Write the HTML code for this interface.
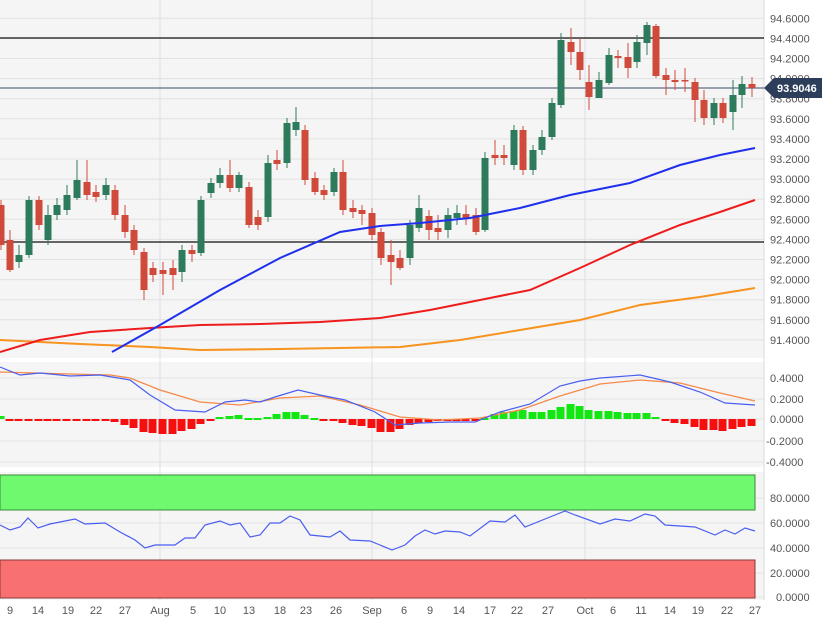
<!DOCTYPE html>
<html><head><meta charset="utf-8"><style>
html,body{margin:0;padding:0;background:#fff;width:822px;height:629px;overflow:hidden}
svg{display:block;font-family:"Liberation Sans",sans-serif}
</style></head><body>
<svg id="s" width="822" height="629" xmlns="http://www.w3.org/2000/svg">
<rect x="0" y="0" width="764" height="358" fill="#f5f5f5"/>
<rect x="0" y="362" width="764" height="105" fill="#f5f5f5"/>
<rect x="0" y="472" width="764" height="128" fill="#f5f5f5"/>
<g id="grid" stroke="#e2e2e2" stroke-width="1"></g>
<g stroke="#e0e0e6"><line x1="160" y1="0" x2="160" y2="600"/><line x1="372" y1="0" x2="372" y2="600"/><line x1="585" y1="0" x2="585" y2="600"/></g>
<line x1="764" y1="0" x2="764" y2="600" stroke="#d8dbe3"/>
<line x1="0" y1="38" x2="764" y2="38" stroke="#111" stroke-width="1.2"/>
<line x1="0" y1="242" x2="764" y2="242" stroke="#111" stroke-width="1.2"/>
<line x1="0" y1="88" x2="764" y2="88" stroke="#7a8499" stroke-width="1.5"/>
<g id="c"></g>
<polyline fill="none" stroke="#f7931e" stroke-width="2" points="0,340 80,344 150,347 200,350 280,349 400,347 460,340 520,330 580,320 640,305 700,297 755,288"/>
<polyline fill="none" stroke="#ee1c1c" stroke-width="2" points="0,352 40,340 90,332 150,328 200,325 260,324 320,322 380,318 430,310 480,300 530,290 580,268 630,245 680,225 720,212 755,200"/>
<polyline fill="none" stroke="#1f2fee" stroke-width="2" points="112,352 160,325 220,290 280,258 340,232 380,226 420,223 470,218 520,208 570,195 630,183 680,165 720,155 755,148"/>
<g id="h"></g>
<polyline fill="none" stroke="#f58a4a" stroke-width="1.3" points="0,372 70,374 110,375 130,378 160,390 200,402 240,405 280,398 320,396 360,405 400,417 440,420 480,418 520,410 560,396 600,384 640,380 680,383 720,393 755,401"/>
<polyline fill="none" stroke="#4a5ef0" stroke-width="1.2" points="0,367 20,375 40,373 70,376 100,375 130,380 150,395 175,410 205,412 225,402 245,400 260,402 275,397 298,390 320,395 345,400 375,412 395,425 420,423 450,422 475,422 500,412 530,404 560,386 580,381 600,378 640,375 670,382 700,392 725,403 755,405"/>
<rect x="0" y="475" width="755" height="35" fill="#6ef96e" stroke="#3a8a3a"/>
<rect x="0" y="560" width="755" height="38" fill="#f87070" stroke="#8a3a3a"/>
<polyline fill="none" stroke="#4a5ef0" stroke-width="1.2" points="0,525 10,530 20,527 28,518 38,528 50,524 75,519 85,524 105,523 120,532 135,540 145,548 155,545 175,545 185,538 195,538 205,525 220,521 230,525 240,523 250,537 260,535 270,523 280,523 290,516 300,520 310,535 330,537 340,531 350,540 370,541 380,545 392,550 405,545 415,536 425,530 435,534 445,531 460,532 470,536 490,521 505,522 515,515 525,527 550,517 565,511 575,515 600,524 615,519 630,521 645,514 655,516 665,525 695,527 715,535 725,530 735,534 745,528 755,531"/>
<g id="t" font-size="11" fill="#555"></g>
<path d="M764,88 L774,78 L822,78 L822,98 L774,98 Z" fill="#2c3e5a"/>
<text x="777" y="92" font-size="11" font-weight="bold" fill="#fff">93.9046</text>
</svg>
<script>
var NS="http://www.w3.org/2000/svg";
function el(p,t,a,txt){var e=document.createElementNS(NS,t);for(var k in a)e.setAttribute(k,a[k]);if(txt!=null)e.textContent=txt;document.getElementById(p).appendChild(e);}
// grid & labels
var pl=["94.8000","94.6000","94.4000","94.2000","94.0000","93.8000","93.6000","93.4000","93.2000","93.0000","92.8000","92.6000","92.4000","92.2000","92.0000","91.8000","91.6000","91.4000"];
for(var i=0;i<pl.length;i++){var y=-1.8+i*20.1;if(y>2&&y<356)el("grid","line",{x1:0,x2:764,y1:y,y2:y});if(y>2)el("t","text",{x:770,y:y+4},pl[i]);}
var m=[["0.4000",378],["0.2000",399],["0.0000",419],["-0.2000",441],["-0.4000",462]];
m.forEach(function(a){el("grid","line",{x1:0,x2:764,y1:a[1],y2:a[1]});el("t","text",{x:a[0][0]=="-"?766:770,y:a[1]+4},a[0]);});
var r=[["80.0000",498],["60.0000",523],["40.0000",548],["20.0000",573],["0.0000",597]];
r.forEach(function(a){el("grid","line",{x1:0,x2:764,y1:a[1],y2:a[1]});el("t","text",{x:a[0].length>6?770:776,y:a[1]+4},a[0]);});
var xl=[["9",10],["14",38],["19",68],["22",96],["27",125],["Aug",160],["5",193],["10",220],["13",249],["18",280],["23",306],["26",336],["Sep",372],["6",404],["9",430],["14",459],["17",490],["22",517],["27",548],["Oct",585],["6",613],["11",641],["14",670],["19",698],["22",727],["27",755]];
xl.forEach(function(a){el("t","text",{x:a[1],y:614,"text-anchor":"middle"},a[0]);});
// candles: x, top, bottom, green?, hi, lo
var C=[[0,205,245,0,200,250],[9,240,270,0,230,272],[18,255,262,1,245,268],[28,200,255,1,196,258],[38,200,225,0,196,230],[47,215,240,1,205,245],[56,205,215,1,198,220],[66,195,210,1,185,215],[76,180,198,1,160,200],[86,182,195,0,160,200],[95,192,197,0,185,202],[105,185,195,1,178,200],[114,190,215,0,185,220],[124,215,232,0,205,238],[133,230,250,0,225,255],[143,252,290,0,248,300],[152,268,275,0,262,282],[162,270,274,0,262,295],[172,268,275,0,260,290],[181,250,272,1,245,282],[191,250,254,0,245,262],[200,200,253,1,196,256],[210,183,193,1,178,198],[219,175,183,1,168,188],[229,175,188,0,160,192],[238,175,188,1,172,192],[248,187,225,0,182,228],[257,217,225,0,210,230],[267,163,217,1,155,222],[276,160,164,0,150,170],[286,123,163,1,118,168],[295,122,130,1,107,136],[304,130,180,0,125,185],[314,178,192,0,172,195],[323,190,195,0,185,200],[333,172,192,1,168,196],[342,172,210,0,160,215],[352,208,212,0,200,218],[361,210,214,0,205,225],[371,213,235,0,208,240],[380,232,258,0,228,265],[390,255,262,0,240,285],[399,258,268,0,250,270],[409,225,258,1,220,265],[418,208,228,1,195,232],[428,216,230,0,210,240],[437,228,232,0,215,240],[447,215,230,1,208,238],[456,213,218,1,205,225],[465,214,218,0,205,225],[475,215,232,0,208,235],[484,158,230,1,152,232],[494,155,158,0,140,165],[503,155,158,0,145,165],[513,130,165,1,125,170],[522,130,170,0,126,175],[532,150,170,1,145,175],[541,137,150,1,130,155],[551,103,137,1,98,140],[560,40,105,1,33,108],[570,42,52,0,28,65],[579,52,70,0,38,80],[588,82,97,0,65,110],[598,80,98,1,72,98],[608,55,83,1,48,85],[617,56,58,0,50,68],[627,57,68,0,43,78],[636,42,62,1,35,68],[646,25,43,1,22,55],[655,26,76,0,24,78],[665,75,80,0,68,95],[674,80,82,0,70,90],[684,80,81,0,68,92],[694,82,100,0,78,122],[703,100,118,0,90,125],[713,103,118,1,98,125],[722,103,118,0,98,123],[732,95,112,1,80,130],[741,84,95,1,76,108],[751,84,88,0,77,97]];
C.forEach(function(c){var col=c[3]?"#2e7a5c":"#cf4a3a";var x=c[0]+1;
el("c","line",{x1:x,x2:x,y1:c[4],y2:c[5],stroke:col,"stroke-width":1});
el("c","rect",{x:x-3.5,y:c[1],width:7,height:Math.max(1.5,c[2]-c[1]),fill:col});});
// histogram: value in px (negative = below zero)
var H=[[0,3],[9,-1],[18,-1],[28,-2],[38,-2],[47,-2],[56,-2],[66,-1],[76,-1],[86,-1],[95,-1],[105,-1],[114,-3],[124,-6],[133,-9],[143,-13],[152,-14],[162,-15],[172,-15],[181,-12],[191,-10],[200,-5],[210,-1],[219,2],[229,3],[238,4],[248,1],[257,1],[267,2],[276,5],[286,7],[295,7],[304,4],[314,1],[323,-2],[333,-2],[342,-4],[352,-6],[361,-7],[371,-9],[380,-13],[390,-13],[399,-10],[409,-6],[418,-4],[428,-3],[437,-2],[447,-2],[456,-2],[465,-1],[475,-1],[484,1],[494,5],[503,7],[513,8],[522,9],[532,7],[541,7],[551,9],[560,12],[570,15],[579,13],[588,9],[598,8],[608,8],[617,7],[627,6],[636,6],[646,6],[655,2],[665,-1],[674,-4],[684,-5],[694,-8],[703,-11],[713,-11],[722,-12],[732,-10],[741,-8],[751,-7]];
H.forEach(function(h){var v=h[1];el("h","rect",{x:h[0]-3.5,y:v>0?419-v:419,width:8,height:Math.max(2,Math.abs(v)),fill:v>=0?"#14e614":"#f50f0f"});});
</script>
</body></html>
